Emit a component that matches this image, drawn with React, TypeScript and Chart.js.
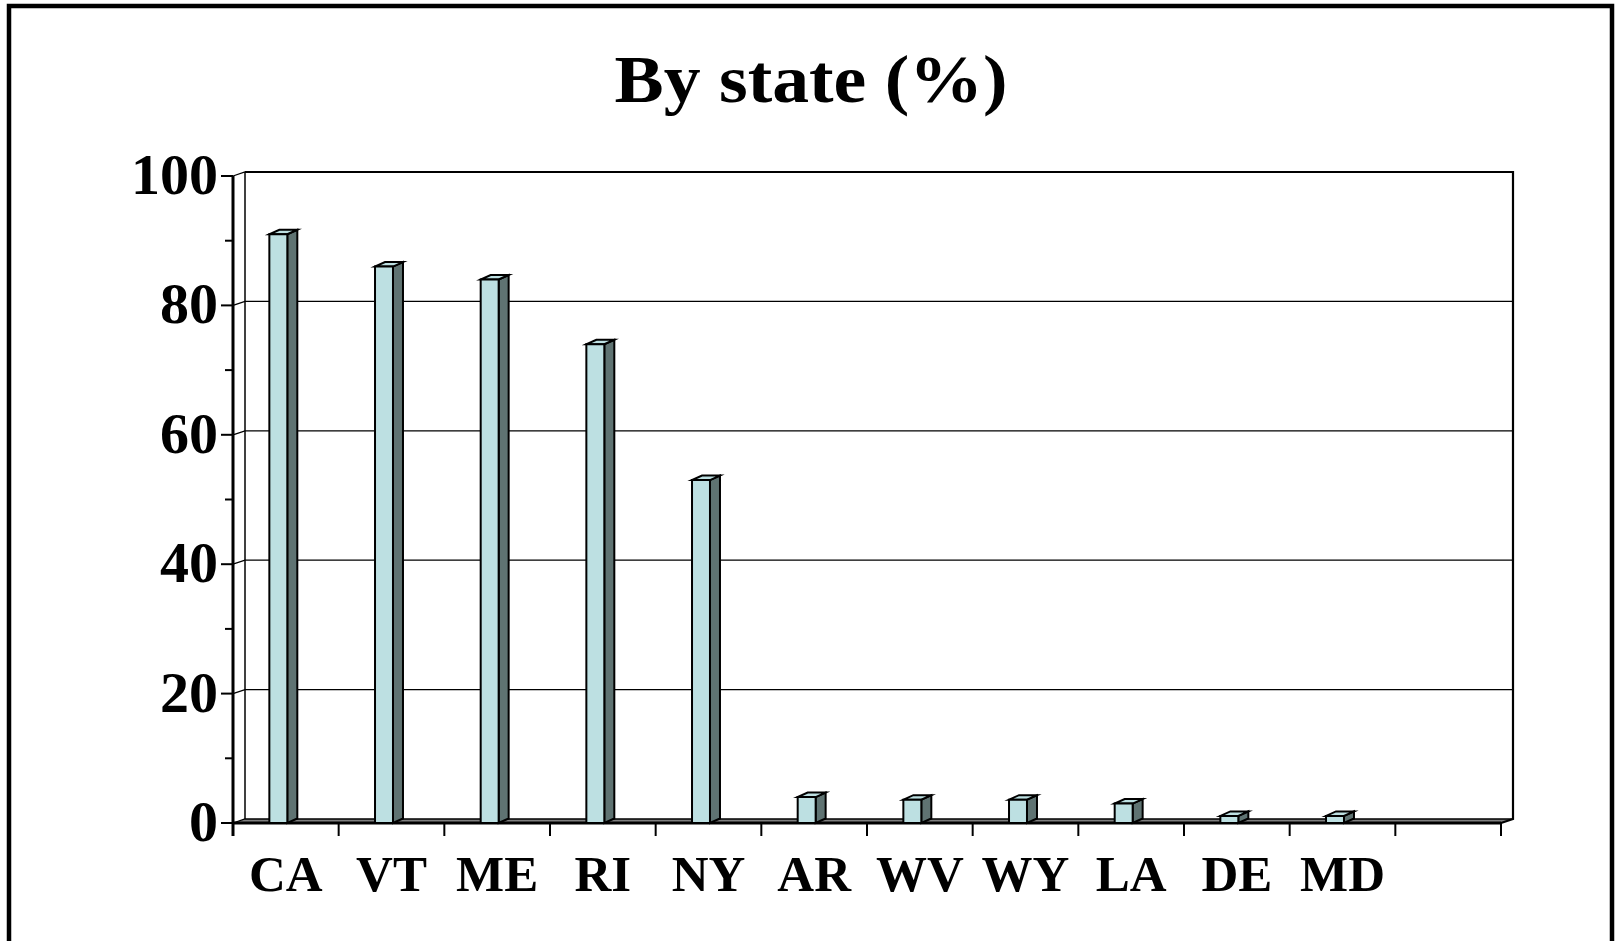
import { useEffect, useRef } from 'react';
import { Chart, registerables } from 'chart.js';

Chart.register(...registerables);

// ---- data ----
const categories = ['CA', 'VT', 'ME', 'RI', 'NY', 'AR', 'WV', 'WY', 'LA', 'DE', 'MD', ''];
const shares: (number | null)[] = [91, 86, 84, 74, 53, 4, 3.6, 3.6, 3, 1.1, 1.1, null];
const majorTicks = [0, 20, 40, 60, 80, 100];
const minorTicks = [10, 30, 50, 70, 90];
const titleText = 'By state (%)';

// ---- styles ----
const FONT_FAMILY = "'Liberation Serif', 'Times New Roman', serif";
const FRONT_COLOR = '#BDE0E2';
const SIDE_COLOR = '#5F7372';
const TOP_COLOR = '#BDE0E2';
const FLOOR_COLOR = '#808080';
const WALL_DX = 12;
const WALL_DY = 4;
const BAR_DX = 10;
const BAR_DY = 4.5;
const BAR_SHIFT = -7.5;

const threeD = {
  id: 'threeD',
  beforeDraw(chart: any) {
    const { ctx, width, height } = chart;
    ctx.save();
    ctx.fillStyle = '#fff';
    ctx.fillRect(0, 0, width, height);
    // outer frame (open at bottom)
    ctx.strokeStyle = '#000';
    ctx.lineWidth = 4.5;
    ctx.beginPath();
    ctx.moveTo(9, height + 10);
    ctx.lineTo(9, 6);
    ctx.lineTo(width - 6, 6);
    ctx.lineTo(width - 6, height + 10);
    ctx.stroke();
    // title (slightly widened, like the original)
    ctx.fillStyle = '#000';
    ctx.font = `bold 67px ${FONT_FAMILY}`;
    ctx.textAlign = 'center';
    ctx.textBaseline = 'alphabetic';
    ctx.translate(width / 2 + 2, 102);
    ctx.scale(1.1, 1);
    ctx.fillText(titleText, 0, 0);
    ctx.restore();
  },
  beforeDatasetsDraw(chart: any) {
    const { ctx, chartArea: a, scales } = chart;
    const x = scales.x;
    const y = scales.y;
    const L = a.left, R = a.right, T = a.top, B = a.bottom;
    ctx.save();
    ctx.lineCap = 'butt';
    // floor
    ctx.fillStyle = FLOOR_COLOR;
    ctx.beginPath();
    ctx.moveTo(L, B);
    ctx.lineTo(R, B);
    ctx.lineTo(R + WALL_DX, B - WALL_DY);
    ctx.lineTo(L + WALL_DX, B - WALL_DY);
    ctx.closePath();
    ctx.fill();

    // gridlines on back wall + diagonals on side wall
    ctx.strokeStyle = '#000';
    ctx.lineWidth = 1.3;
    majorTicks.forEach((v) => {
      const yy = y.getPixelForValue(v);
      ctx.beginPath();
      ctx.moveTo(L, yy);
      ctx.lineTo(L + WALL_DX, yy - WALL_DY);
      ctx.lineTo(R + WALL_DX, yy - WALL_DY);
      ctx.stroke();
    });

    // back wall outline
    ctx.lineWidth = 1.5;
    ctx.beginPath();
    ctx.moveTo(L + WALL_DX, B - WALL_DY);
    ctx.lineTo(L + WALL_DX, T - WALL_DY);
    ctx.stroke();
    ctx.lineWidth = 2.2;
    ctx.beginPath();
    ctx.moveTo(L + WALL_DX, T - WALL_DY);
    ctx.lineTo(R + WALL_DX, T - WALL_DY);
    ctx.lineTo(R + WALL_DX, B - WALL_DY);
    ctx.lineTo(R, B);
    ctx.stroke();

    // front y axis line
    ctx.lineWidth = 3;
    ctx.beginPath();
    ctx.moveTo(L, T);
    ctx.lineTo(L, B + 13);
    ctx.stroke();
    // y ticks
    ctx.lineWidth = 2;
    majorTicks.forEach((v) => {
      const yy = y.getPixelForValue(v);
      ctx.beginPath();
      ctx.moveTo(L - 12, yy);
      ctx.lineTo(L, yy);
      ctx.stroke();
    });
    minorTicks.forEach((v) => {
      const yy = y.getPixelForValue(v);
      ctx.beginPath();
      ctx.moveTo(L - 8, yy);
      ctx.lineTo(L, yy);
      ctx.stroke();
    });

    // front x axis line
    ctx.lineWidth = 3;
    ctx.beginPath();
    ctx.moveTo(L, B);
    ctx.lineTo(R, B);
    ctx.stroke();
    // x ticks at category boundaries
    const half = (x.getPixelForValue(1) - x.getPixelForValue(0)) / 2;
    ctx.lineWidth = 2;
    for (let i = 0; i <= categories.length; i++) {
      const xx = x.getPixelForValue(i) - half;
      ctx.beginPath();
      ctx.moveTo(xx, B);
      ctx.lineTo(xx, B + 13);
      ctx.stroke();
    }
    ctx.restore();
  },
  afterDatasetsDraw(chart: any) {
    const { ctx } = chart;
    const meta = chart.getDatasetMeta(0);
    ctx.save();
    ctx.strokeStyle = '#000';
    ctx.lineWidth = 2;
    ctx.lineJoin = 'miter';
    meta.data.forEach((el: any, i: number) => {
      if (shares[i] == null) return;
      const p = el.getProps(['x', 'y', 'base', 'width'], true);
      const x0 = p.x - p.width / 2 + BAR_SHIFT;
      const x1 = x0 + p.width;
      const yt = p.y;
      const yb = p.base;
      // side face
      ctx.fillStyle = SIDE_COLOR;
      ctx.beginPath();
      ctx.moveTo(x1, yt);
      ctx.lineTo(x1 + BAR_DX, yt - BAR_DY);
      ctx.lineTo(x1 + BAR_DX, yb - BAR_DY);
      ctx.lineTo(x1, yb);
      ctx.closePath();
      ctx.fill();
      ctx.stroke();
      // top face
      ctx.fillStyle = TOP_COLOR;
      ctx.beginPath();
      ctx.moveTo(x0, yt);
      ctx.lineTo(x1, yt);
      ctx.lineTo(x1 + BAR_DX, yt - BAR_DY);
      ctx.lineTo(x0 + BAR_DX, yt - BAR_DY);
      ctx.closePath();
      ctx.fill();
      ctx.stroke();
      // front face
      ctx.fillStyle = FRONT_COLOR;
      ctx.beginPath();
      ctx.rect(x0, yt, x1 - x0, yb - yt);
      ctx.fill();
      ctx.stroke();
    });
    ctx.restore();
  },
};

export default function App() {
  const canvasRef = useRef<HTMLCanvasElement | null>(null);

  useEffect(() => {
    document.body.style.margin = '0';
    const canvas = canvasRef.current;
    if (!canvas) return;
    const chart = new Chart(canvas, {
      type: 'bar',
      data: {
        labels: categories,
        datasets: [
          {
            data: shares,
            backgroundColor: 'rgba(0,0,0,0)',
            borderWidth: 0,
            categoryPercentage: 1,
            barPercentage: 0.17,
          },
        ],
      },
      options: {
        responsive: false,
        animation: false,
        devicePixelRatio: 1,
        layout: { padding: { top: 176, left: 0, right: 117, bottom: 0 } },
        plugins: {
          legend: { display: false },
          tooltip: { enabled: false },
          title: { display: false },
        },
        scales: {
          x: {
            grid: { display: false, drawTicks: false },
            border: { display: false },
            ticks: {
              color: '#000',
              font: { family: FONT_FAMILY, weight: 'bold', size: 51 },
              padding: 24,
              maxRotation: 0,
              autoSkip: false,
            },
            afterFit: (s: any) => {
              s.height = 118;
            },
          },
          y: {
            min: 0,
            max: 100,
            grid: { display: false, drawTicks: false },
            border: { display: false },
            ticks: {
              stepSize: 20,
              color: '#000',
              font: { family: FONT_FAMILY, weight: 'bold', size: 58 },
              padding: 15,
              labelOffset: 3,
            },
            afterFit: (s: any) => {
              s.width = 233;
            },
          },
        },
      } as any,
      plugins: [threeD],
    });
    return () => chart.destroy();
  }, []);

  return (
    <canvas
      ref={canvasRef}
      width={1618}
      height={941}
      style={{ display: 'block', width: 1618, height: 941 }}
    />
  );
}
